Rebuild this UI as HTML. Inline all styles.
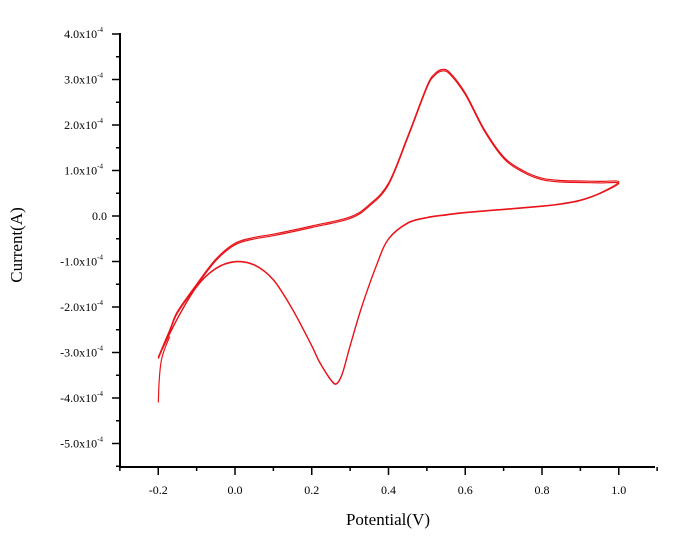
<!DOCTYPE html>
<html><head><meta charset="utf-8"><style>
body{margin:0;background:#fff}
svg{display:block;font-family:"Liberation Serif",serif}
</style></head><body>
<svg id="chart" width="673" height="542">
<g id="axes"></g>
<g id="series"></g>
<text x="388" y="525" font-size="17" text-anchor="middle">Potential(V)</text>
<text transform="translate(22,245) rotate(-90)" font-size="17" text-anchor="middle">Current(A)</text>
</svg>
<script>
const xTicks=[-0.2,0,0.2,0.4,0.6,0.8,1.0];
const xTickLabels=["-0.2","0.0","0.2","0.4","0.6","0.8","1.0"];
const yTicks=[4,3,2,1,0,-1,-2,-3,-4,-5];
const yTickLabels=["4.0x10","3.0x10","2.0x10","1.0x10","0.0","-1.0x10","-2.0x10","-3.0x10","-4.0x10","-5.0x10"];
// cycle potentials (V) and currents (1e-4 A)
const fwdPot=[-0.2,-0.17,-0.15,-0.1,-0.05,0,0.05,0.1,0.2,0.3,0.35,0.4,0.45,0.5,0.52,0.54,0.56,0.6,0.65,0.7,0.75,0.8,0.85,0.9,0.95,1.0];
const fwdCur=[-3.1,-2.5,-2.1,-1.5,-0.95,-0.6,-0.47,-0.4,-0.22,-0.02,0.25,0.72,1.75,2.85,3.12,3.22,3.15,2.7,1.9,1.3,1.0,0.83,0.78,0.77,0.76,0.75];
const revPot=[1.0,0.95,0.9,0.85,0.8,0.7,0.6,0.55,0.5,0.45,0.4,0.37,0.33,0.3,0.28,0.265,0.25,0.22,0.2,0.15,0.1,0.05,0.0,-0.05,-0.1,-0.15,-0.2];
const revCur=[0.72,0.5,0.35,0.27,0.22,0.15,0.08,0.03,-0.03,-0.15,-0.5,-1.05,-2.0,-2.85,-3.45,-3.68,-3.6,-3.2,-2.85,-2.05,-1.4,-1.07,-1.0,-1.15,-1.55,-2.25,-3.1];
const startPot=[-0.2,-0.198,-0.195,-0.19,-0.18,-0.17];
const startCur=[-4.1,-3.7,-3.35,-3.1,-2.85,-2.65];
const X=v=>235+(v/0.2)*76.75;
const Y=v=>216-v*45.5;
const NS="http://www.w3.org/2000/svg";
const ax=document.getElementById('axes');
function mk(t,a,p){const e=document.createElementNS(NS,t);for(const k in a)e.setAttribute(k,a[k]);(p||ax).appendChild(e);return e;}
let l=mk('line',{x1:120,y1:33,x2:120,y2:467.5,stroke:'#000','stroke-width':2});


l=mk('line',{x1:119,y1:467,x2:655,y2:467,stroke:'#000','stroke-width':2});


for(let v=-0.3;v<=1.11;v+=0.1){const x=X(v);const maj=Math.abs(Math.round(v*10))%2===0;mk('line',{x1:x,y1:467,x2:x,y2:maj?475:471,stroke:'#000','stroke-width':1.5});}
xTicks.forEach((v,i)=>{const t=mk('text',{x:X(v),y:494,'font-size':12,'text-anchor':'middle'});t.textContent=xTickLabels[i];

});
for(let v=-5.5;v<=4.01;v+=0.5){const y=Y(v);const maj=Math.abs(Math.round(v*2))%2===0;mk('line',{x1:maj?112:116,y1:y,x2:120,y2:y,stroke:'#000','stroke-width':1.5});}
yTicks.forEach((v,i)=>{const t=mk('text',{x:v===0?107:103,y:Y(v)+4,'font-size':12,'text-anchor':'end'});t.textContent=yTickLabels[i];


if(v!==0){const s=mk('tspan',{'font-size':7,dy:-6});s.textContent='-4';t.appendChild(s);}});
const sg=document.getElementById('series');
function smooth(pts){let d='M'+pts[0][0].toFixed(1)+','+pts[0][1].toFixed(1);
 for(let i=0;i<pts.length-1;i++){const p0=pts[i-1]||pts[i],p1=pts[i],p2=pts[i+1],p3=pts[i+2]||p2;
  const c1=[p1[0]+(p2[0]-p0[0])/6,p1[1]+(p2[1]-p0[1])/6],c2=[p2[0]-(p3[0]-p1[0])/6,p2[1]-(p3[1]-p1[1])/6];
  d+='C'+c1.map(v=>v.toFixed(1))+' '+c2.map(v=>v.toFixed(1))+' '+p2.map(v=>v.toFixed(1));}
 return d;}
function pts(px,py,off){return px.map((p,i)=>[X(p),Y(py[i])+off]);}
[0,1.5].forEach((off,k)=>{
 const all=pts(fwdPot,fwdCur,off).concat(pts(revPot,revCur,off*0.3).slice(1));
 const p=mk('path',{d:smooth(all),fill:'none',stroke:'#e8141a','stroke-width':1.2,'stroke-linejoin':'round'},sg);
 
 
});
const p0=mk('path',{d:smooth(pts(startPot,startCur,0)),fill:'none',stroke:'#e8141a','stroke-width':1.2},sg);


</script>
</body></html>
